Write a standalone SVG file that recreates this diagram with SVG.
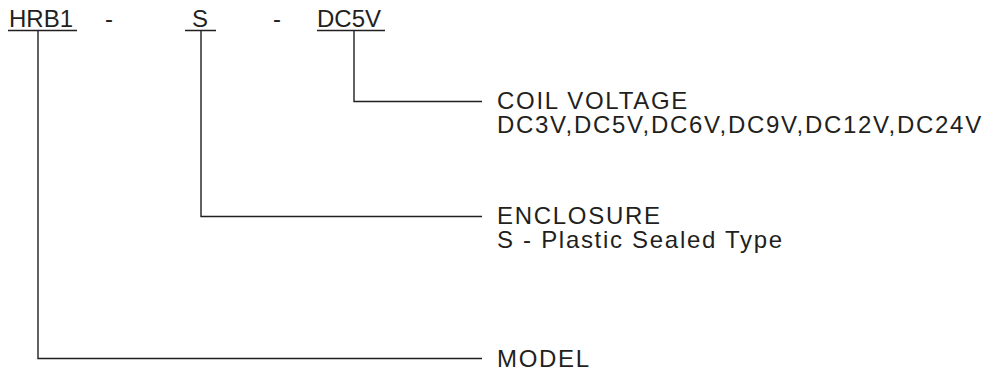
<svg xmlns="http://www.w3.org/2000/svg" width="1008" height="373" viewBox="0 0 1008 373">
<style>
.t{font-family:"Liberation Sans",Arial,sans-serif;fill:#231f20}
.top{font-size:24px}
.lab{font-size:24px;letter-spacing:1.7px}
.ln{stroke:#231f20;stroke-width:1.4;fill:none}
</style>
<rect width="1008" height="373" fill="#fff"/>
<g id="code">
<text class="t top" x="9" y="27">HRB1</text>
<text class="t top" x="105" y="27">-</text>
<text class="t top" x="192" y="27">S</text>
<text class="t top" x="273" y="27">-</text>
<text class="t top" x="317" y="27">DC5V</text>
<path class="ln" d="M8 30.5H77M185 30.5H216M317 30.5H385"/>
</g>
<g id="connectors">
<path class="ln" d="M354 30.5V101.5H482"/>
<path class="ln" d="M201 30.5V216.5H482"/>
<path class="ln" d="M38 30.5V358.5H482"/>
</g>
<g id="coil">
<text class="t lab" x="497" y="109">COIL VOLTAGE<tspan x="497" dy="24">DC3V,DC5V,DC6V,DC9V,DC12V,DC24V</tspan></text>
</g>
<g id="enclosure">
<text class="t lab" x="497" y="224">ENCLOSURE<tspan x="497" dy="24">S - Plastic Sealed Type</tspan></text>
</g>
<g id="model">
<text class="t lab" x="497" y="367">MODEL</text>
</g>
</svg>
